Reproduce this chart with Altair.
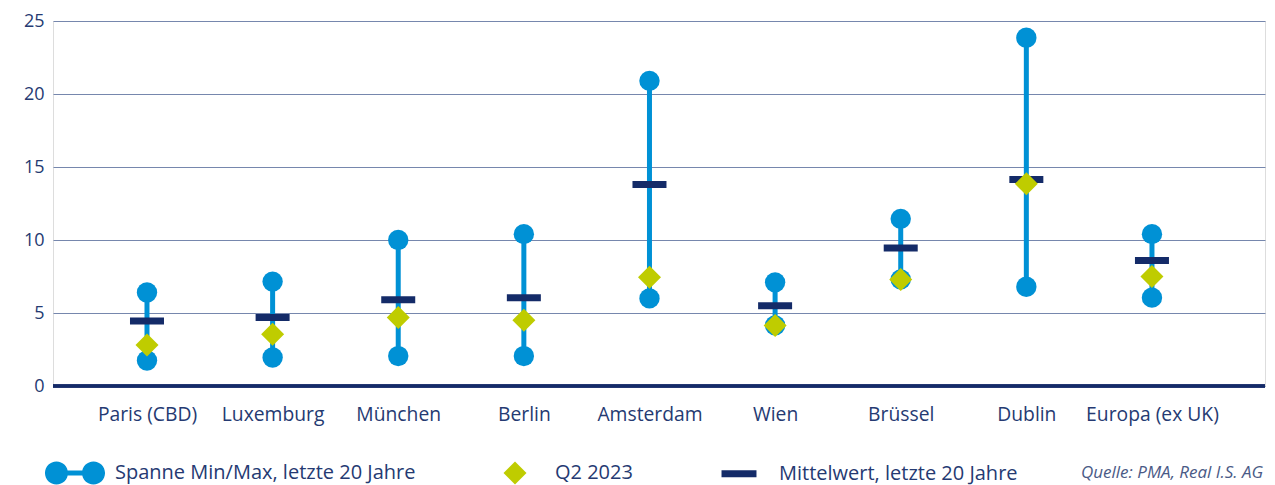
import altair as alt
import pandas as pd

# ---------------- data ----------------
categories = ["Paris (CBD)", "Luxemburg", "München", "Berlin", "Amsterdam",
              "Wien", "Brüssel", "Dublin", "Europa (ex UK)"]
min_20y = [1.75, 1.95, 2.05, 2.05, 6.0, 4.15, 7.3, 6.8, 6.05]
max_20y = [6.4, 7.15, 10.0, 10.4, 20.9, 7.1, 11.45, 23.85, 10.4]
mean_20y = [4.45, 4.7, 5.9, 6.05, 13.8, 5.5, 9.45, 14.15, 8.6]
q2_2023 = [2.8, 3.55, 4.7, 4.5, 7.45, 4.15, 7.3, 13.85, 7.5]
series_names = ["Spanne Min/Max, letzte 20 Jahre", "Q2 2023", "Mittelwert, letzte 20 Jahre"]
y_ticks = [0, 5, 10, 15, 20, 25]
source_note = "Quelle: PMA, Real I.S. AG"

# ---------------- styling ----------------
BLUE = "#0091D5"
GREEN = "#BFCC00"
NAVY = "#142B68"
TEXT = "#253A72"
GRID = "#7687AD"
FONT = "Open Sans"

# legend symbols as paths (unit = half-width of the diamond)
dumbbell = ("M-2.61,0A1,1,0,1,1,-0.61,0A1,1,0,1,1,-2.61,0Z"
            "M-1.61,-0.22H1.61V0.22H-1.61Z"
            "M0.61,0A1,1,0,1,1,2.61,0A1,1,0,1,1,0.61,0Z")
diamond = "M0,-1L1,0L0,1L-1,0Z"
mean_bar = "M-1.52,-0.3H1.52V0.3H-1.52Z"

range_df = pd.DataFrame({"category": categories, "min": min_20y, "max": max_20y})
ends_df = pd.DataFrame({
    "category": categories + categories,
    "value": min_20y + max_20y,
})
mean_df = pd.DataFrame({"category": categories, "value": mean_20y})
q2_df = pd.DataFrame({"category": categories, "value": q2_2023,
                      "series": [series_names[1]] * len(categories)})
note_df = pd.DataFrame({"note": [source_note]})

x_enc = alt.X(
    "category:N", sort=categories,
    scale=alt.Scale(type="point", padding=0.824, align=0.454),
    axis=alt.Axis(title=None, labelAngle=0, ticks=False, domain=False, grid=False,
                  labelPadding=19, labelFontSize=19.3, labelColor=TEXT, labelFont=FONT),
)
y_scale = alt.Scale(domain=[0, 25], nice=False, zero=True)
y_axis = alt.Axis(values=y_ticks, title=None, grid=True, gridColor=GRID, gridWidth=1.2,
                  ticks=False, domain=False, labelPadding=9, labelFontSize=18,
                  labelColor=TEXT, labelFont=FONT)

base_rule = alt.Chart(range_df).mark_rule(color=BLUE, strokeWidth=5).encode(
    x=x_enc,
    y=alt.Y("min:Q", scale=y_scale, axis=y_axis),
    y2="max:Q",
)

zero_line = alt.Chart(range_df).mark_rule(color=NAVY, strokeWidth=2.5).encode(
    y=alt.datum(0)
)

ends = alt.Chart(ends_df).mark_circle(size=415, color=BLUE, opacity=1).encode(
    x=x_enc, y=alt.Y("value:Q", scale=y_scale)
)

means = alt.Chart(mean_df).mark_tick(color=NAVY, thickness=7, size=34, opacity=1).encode(
    x=x_enc, y=alt.Y("value:Q", scale=y_scale)
)

legend = alt.Legend(
    title=None, orient="none", direction="horizontal", legendX=10.5, legendY=440.5,
    symbolSize=529, symbolStrokeWidth=0, symbolOpacity=1, labelOffset=28.5,
    labelFontSize=20, labelColor=TEXT, labelFont=FONT, columnPadding=88, padding=0,
    labelLimit=400,
)

q2 = alt.Chart(q2_df).mark_point(filled=True, size=529, opacity=1, strokeWidth=0).encode(
    x=x_enc,
    y=alt.Y("value:Q", scale=y_scale),
    color=alt.Color("series:N", scale=alt.Scale(domain=series_names, range=[BLUE, GREEN, NAVY]),
                    legend=legend),
    shape=alt.Shape("series:N", scale=alt.Scale(domain=series_names,
                                                range=[dumbbell, diamond, mean_bar]),
                    legend=legend),
)

note = alt.Chart(note_df).mark_text(
    align="right", baseline="middle", fontStyle="italic", fontSize=17,
    color="#4A5A86", font=FONT,
).encode(x=alt.value(1210), y=alt.value(452), text="note:N")

chart = alt.layer(zero_line, base_rule, ends, means, q2, note).properties(
    width=1212, height=365,
    autosize=alt.AutoSizeParams(type="none"),
    padding={"left": 45, "top": 13, "right": 2, "bottom": 99},
).configure_view(stroke=None).configure(background="white")

chart.save("out.html", embed_options={"renderer": "svg", "actions": False})
